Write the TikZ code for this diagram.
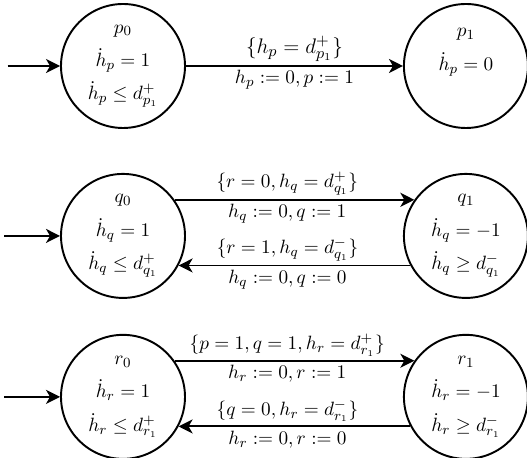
\documentclass[tikz,border=0pt]{standalone}
\usepackage{amsmath}
\usepackage{amssymb}
\usetikzlibrary{positioning,arrows.meta,calc}

\begin{document}
\begin{tikzpicture}[
    st/.style={draw, circle, line width=1.1pt, minimum size=2.48cm, inner sep=0pt, align=center, font={\fontsize{11}{19}\selectfont}},
    fl/.style={-{Stealth[length=2.8mm, width=2.8mm, inset=0.8mm]}, line width=1.1pt},
    lb/.style={font={\fontsize{11}{13}\selectfont}, inner sep=2pt},
]
    \useasboundingbox (-2.46,1.32) rectangle (8.08,-7.84);
    % states
    \node[st] (p0) at (0,0) {$p_0$\\$\dot{h}_p = 1$\\$\dot{h}_p \leq d^+_{p_1}$};
    \node[st, right=4.34cm of p0] (p1) {$p_1$\\$\dot{h}_p = 0$\\~};
    \node[st, below=0.88cm of p0] (q0) {$q_0$\\$\dot{h}_q = 1$\\$\dot{h}_q \leq d^+_{q_1}$};
    \node[st, right=4.34cm of q0] (q1) {$q_1$\\$\dot{h}_q = -1$\\$\dot{h}_q \geq d^-_{q_1}$};
    \node[st, below=0.70cm of q0] (r0) {$r_0$\\$\dot{h}_r = 1$\\$\dot{h}_r \leq d^+_{r_1}$};
    \node[st, right=4.34cm of r0] (r1) {$r_1$\\$\dot{h}_r = -1$\\$\dot{h}_r \geq d^-_{r_1}$};
    % initial arrows
    \coordinate[left=1.05cm of p0] (s0);
    \coordinate[left=1.12cm of q0] (s1);
    \coordinate[left=1.12cm of r0] (s2);
    \draw[fl] (s0) -- (p0);
    \draw[fl] (s1) -- (q0);
    \draw[fl] (s2) -- (r0);
    % transitions
    \draw[fl] (p0) -- node[lb, above, font={\fontsize{13}{15}\selectfont}] {$\{h_p = d^+_{p_1}\}$} node[lb, below] {$h_p := 0, p := 1$} (p1);
    \draw[fl] (q0.35) -- node[lb, above, pos=0.47] {$\{r = 0, h_q = d^+_{q_1}\}$} node[lb, below, pos=0.47] {$h_q := 0, q := 1$} (q1.145);
    \draw[fl] (q1.208) -- node[lb, above, pos=0.53] {$\{r = 1, h_q = d^-_{q_1}\}$} node[lb, below, pos=0.53] {$h_q := 0, q := 0$} (q0.-28);
    \draw[fl] (r0.35) -- node[lb, above, pos=0.47] {$\{p = 1, q = 1, h_r = d^+_{r_1}\}$} node[lb, below, pos=0.47] {$h_r := 0, r := 1$} (r1.145);
    \draw[fl] (r1.208) -- node[lb, above, pos=0.53] {$\{q = 0, h_r = d^-_{r_1}\}$} node[lb, below, pos=0.53] {$h_r := 0, r := 0$} (r0.-28);
\end{tikzpicture}
\end{document}
